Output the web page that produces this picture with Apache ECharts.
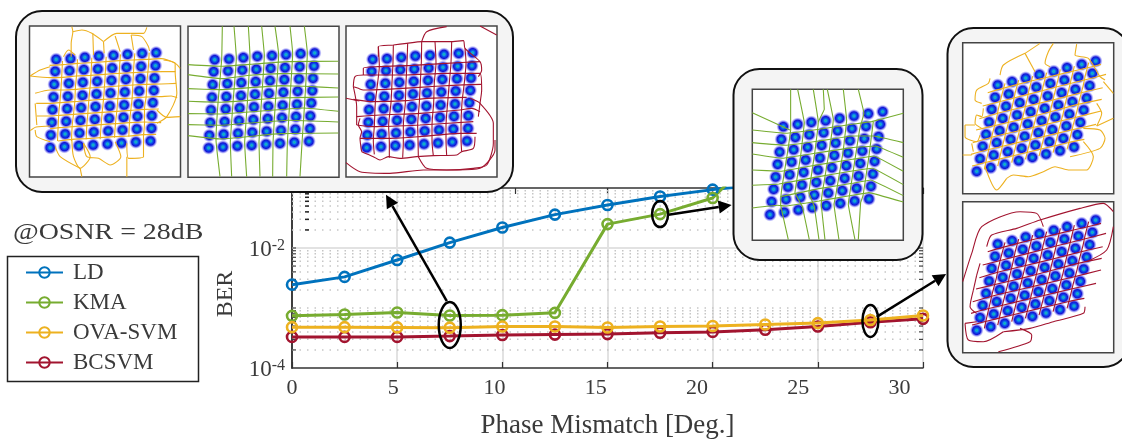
<!DOCTYPE html>
<html><head><meta charset="utf-8">
<script src="https://cdn.jsdelivr.net/npm/echarts@6/dist/echarts.min.js"></script>
<style>html,body{margin:0;padding:0;background:#fff}#c{width:1122px;height:440px}</style></head>
<body><div id="c"></div>
<script>
// ---------- main curve data ----------
const phaseMismatch = [0,2.5,5,7.5,10,12.5,15,17.5,20,22.5,25,27.5,30];
const berLD   = [2.45e-3,3.3e-3,6.3e-3,1.23e-2,2.2e-2,3.6e-2,5.2e-2,7.2e-2,9.4e-2,0.115];
const berKMA  = [7.4e-4,7.8e-4,8.4e-4,7.5e-4,7.6e-4,8.3e-4,2.5e-2,3.67e-2,6.8e-2,0.5];
const berOVA  = [4.8e-4,4.8e-4,4.75e-4,4.7e-4,4.93e-4,4.93e-4,4.74e-4,4.93e-4,5e-4,5.3e-4,5.6e-4,6.3e-4,7.5e-4];
const berBC   = [3.3e-4,3.3e-4,3.3e-4,3.4e-4,3.54e-4,3.6e-4,3.67e-4,3.87e-4,4e-4,4.35e-4,4.93e-4,5.8e-4,6.6e-4];
const seriesNames = ['LD','KMA','OVA-SVM','BCSVM'];
const xTickLabels = [0,5,10,15,20,25,30];
const xTopTicks = [10.6,15,20,25,30];
const yLabelValues = [1e-4,1e-2];
const yMajorGrid = [1e-2];
const yMinorGrid = [2e-4,3e-4,4e-4,5e-4,6e-4,7e-4,8e-4,9e-4,1e-3,2e-3,3e-3,4e-3,5e-3,6e-3,7e-3,8e-3,9e-3,2e-2,3e-2,4e-2,5e-2,6e-2,7e-2,8e-2,9e-2];
const yEdgeTicks = [2e-4,3e-4,4e-4,5e-4,6e-4,7e-4,8e-4,9e-4,1e-3,2e-3,3e-3,4e-3,5e-3,6e-3,7e-3,8e-3,9e-3,1e-2];
const yStrayTicks = [2e-2,3e-2,4e-2,5e-2,6e-2,7e-2,8e-2,9e-2];
const ellipseCenters = [[7.5,5.2e-4],[17.5,3.67e-2],[27.5,6.1e-4]];
const arrowEnds = [[7.36,1.3e-3,4.47,7.7e-2],[17.9,3.57e-2,20.9,5.2e-2],[27.8,7.1e-4,31.1,3.7e-3]];

// ---------- constellation centres ----------
const constAt7 = [[80,100],[123,98],[166,94],[208,90],[252,88],[294,85],[338,82],[380,80],
[77,136],[120,134],[163,131],[205,129],[248,126],[291,124],[335,121],[378,119],
[74,175],[118,172],[160,169],[203,166],[246,163],[289,160],[333,158],[375,156],
[72,213],[115,211],[159,208],[201,204],[243,201],[286,198],[329,195],[373,193],
[69,251],[113,248],[155,245],[198,242],[241,240],[284,237],[327,234],[370,230],
[67,289],[110,286],[153,283],[196,280],[239,277],[282,274],[324,271],[367,269],
[64,327],[107,324],[150,321],[193,318],[236,315],[279,312],[322,309],[366,307],
[62,365],[105,362],[148,359],[191,357],[234,354],[276,351],[319,348],[363,345]];
const constAt17 = [[93,112],[136,105],[177,99],[220,94],[262,87],[305,80],[348,73],[391,67],
[87,150],[129,144],[171,136],[214,130],[256,124],[299,118],[341,111],[384,105],
[82,188],[124,181],[166,174],[208,168],[250,161],[293,154],[336,148],[379,142],
[76,225],[118,218],[160,212],[203,206],[246,198],[287,191],[330,185],[373,179],
[70,263],[112,256],[154,249],[197,242],[239,235],[282,229],[324,222],[367,216],
[64,300],[107,293],[149,287],[192,279],[234,274],[277,267],[319,260],[362,254],
[58,337],[101,330],[144,324],[186,317],[228,311],[270,304],[313,297],[356,291],
[53,376],[96,369],[138,362],[180,355],[222,349],[264,342],[307,335],[350,329]];
const constAt27 = [[105,127],[148,117],[189,106],[230,96],[273,86],[313,75],[357,65],[399,55],
[97,164],[138,154],[180,143],[221,133],[263,122],[305,112],[347,103],[389,92],
[87,200],[130,191],[171,180],[213,170],[255,160],[297,150],[338,140],[381,129],
[79,238],[120,227],[163,217],[204,207],[246,197],[287,187],[329,177],[372,166],
[70,275],[111,264],[153,254],[195,244],[237,234],[278,223],[320,214],[363,202],
[60,311],[102,300],[144,290],[186,281],[227,270],[269,261],[311,250],[353,239],
[52,348],[93,337],[135,327],[177,317],[218,307],[260,297],[302,287],[344,276],
[42,386],[84,375],[126,365],[168,354],[209,344],[250,334],[292,324],[334,313]];

// ---------- decision boundaries ----------
const ovaAt7 = [
[[60,118],[100,116],[145,112],[185,110],[228,107],[270,104],[312,102],[355,100],[395,98],[437,112],[452,127]],
[[2,150],[32,132],[62,122]],[[2,150],[62,155],[100,154],[140,150],[182,148],[225,145],[270,142],[312,140],[355,138],[400,137],[438,137]],
[[17,202],[62,192],[95,192],[138,190],[180,186],[225,183],[268,180],[310,177],[352,175],[395,174],[440,172]],
[[20,232],[60,232],[90,230],[135,227],[178,223],[222,220],[265,218],[308,216],[350,213],[392,212],[425,210],[443,215]],
[[22,270],[60,270],[90,268],[132,265],[175,262],[218,259],[262,256],[304,253],[345,250],[388,249]],
[[2,314],[20,303],[62,300]],[[62,308],[88,305],[130,302],[172,299],[215,296],[258,293],[300,290],[345,288],[395,290]],
[[85,345],[128,340],[170,338],[212,335],[255,332],[298,330],[342,326],[380,325]],
[[99,105],[97,145],[95,180],[92,220],[88,260],[86,300],[84,345]],
[[144,100],[142,140],[138,180],[136,225],[132,265],[128,300],[126,345]],
[[187,95],[185,135],[182,180],[178,222],[175,262],[172,298],[170,340]],
[[230,92],[228,130],[225,180],[222,220],[218,260],[215,295],[212,340]],
[[273,85],[270,125],[268,178],[265,218],[262,255],[258,292],[255,335]],
[[316,82],[313,120],[310,175],[308,215],[304,252],[300,290],[298,332]],
[[359,80],[357,118],[352,172],[350,212],[345,250],[345,290],[342,330]],
[[102,92],[117,72],[137,87]],[[127,2],[130,17],[125,52],[125,92]],
[[130,17],[157,12],[187,22],[222,47]],[[190,22],[192,87]],[[222,47],[224,82]],
[[222,47],[262,22],[302,22]],[[257,30],[272,77]],[[305,27],[312,72]],
[[302,22],[342,22],[352,4]],[[305,27],[337,32],[357,62],[360,75]],
[[402,102],[437,112],[437,137],[442,202],[412,272],[382,292]],[[452,272],[412,274],[382,252]],
[[342,322],[342,392],[297,397],[292,352]],[[292,392],[292,452]],
[[162,352],[172,392],[207,397],[242,417],[274,392],[257,347]],
[[127,342],[132,392],[152,427],[182,392],[162,352]],[[152,427],[157,452]],
[[77,362],[92,392],[152,427]],[[17,312],[22,332],[62,347]],[[17,232],[22,297]]];
const kmaAt7 = [
[[0,115],[100,120],[200,113],[300,106],[451,105]],
[[0,145],[100,157],[186,147],[280,142],[451,143]],
[[0,187],[96,190],[280,178],[350,180],[451,185]],
[[0,225],[96,228],[270,215],[451,212]],
[[0,262],[96,263],[346,245],[451,255]],
[[0,295],[96,297],[300,282],[451,287]],
[[0,328],[96,338],[276,322],[451,320]],
[[103,0],[101,100],[90,230],[84,340],[96,451]],
[[138,0],[145,95],[135,230],[127,350],[131,451]],
[[181,0],[186,90],[178,230],[170,350],[176,451]],
[[221,0],[229,88],[220,230],[213,350],[216,451]],
[[261,0],[272,85],[262,230],[255,350],[254,451]],
[[306,0],[314,82],[305,230],[298,350],[296,451]],
[[349,0],[358,80],[350,230],[342,350],[336,451]]];
const bcAt7 = [
[[0,217],[40,225]],[[0,410],[42,437],[132,442],[232,432],[332,432],[402,427],[447,372],[447,342]],
[[217,392],[242,427],[302,432],[382,427],[422,417],[442,352],[442,292],[402,232],[372,217]],
[[227,47],[242,17],[302,2]],[[402,0],[452,27]],
[[97,92],[97,62],[142,57],[182,52],[227,47],[262,47],[312,47],[352,44],[357,67],[402,107],[407,132],[397,152]],
[[52,147],[52,127],[97,122],[200,118],[300,112],[402,107]],
[[22,182],[27,152],[52,147],[182,147],[300,142],[402,142],[407,192],[402,232],[397,272]],
[[22,182],[37,187],[52,192],[120,190],[220,184],[320,178],[405,175]],
[[22,220],[82,227],[182,224],[242,217],[362,214]],[[22,182],[32,242],[32,297]],
[[32,272],[102,267],[222,262],[342,252],[377,247],[402,257]],
[[32,297],[82,302],[222,297],[382,287]],[[42,277],[37,297],[47,317],[42,337],[47,377]],
[[42,337],[132,337],[222,332],[342,322],[392,322]],
[[47,377],[82,392],[102,402],[127,392],[162,397],[212,392],[262,389],[332,387],[347,377],[382,367],[387,332]],
[[97,62],[100,120],[95,170],[88,230],[85,300],[82,345],[85,385]],
[[142,57],[141,110],[138,170],[135,230],[128,300],[130,350],[130,395]],
[[185,52],[183,110],[180,170],[178,230],[172,300],[172,345],[170,395]],
[[227,47],[226,110],[223,170],[220,230],[215,300],[216,340],[217,392]],
[[267,47],[270,110],[265,170],[263,230],[258,300],[258,345],[262,389]],
[[317,47],[315,110],[310,170],[305,230],[300,300],[300,345],[302,387]],
[[357,67],[360,110],[355,170],[348,230],[345,300],[345,340],[347,377]]];
const kmaAt17 = [
[[0,70],[113,122]],[[0,122],[100,132],[200,120],[300,105],[358,97],[453,72]],
[[0,160],[100,168],[200,155],[300,140],[365,140],[453,160]],
[[0,194],[90,207],[200,190],[300,175],[370,170],[453,204]],
[[0,242],[85,246],[200,226],[300,210],[365,200],[453,246]],
[[0,288],[80,284],[200,262],[300,245],[360,237],[453,286]],
[[85,322],[200,298],[300,282],[355,272],[453,319]],
[[0,356],[75,348],[100,350],[200,335],[300,318],[350,310],[453,338]],
[[115,0],[115,122],[104,200],[88,300],[85,345],[108,451]],
[[136,0],[156,100],[145,200],[128,310],[150,352],[171,451]],
[[183,0],[198,97],[186,200],[170,310],[186,352],[200,451]],
[[213,0],[216,60],[198,97]],
[[225,0],[243,90],[230,190],[210,310],[207,345],[218,451]],
[[273,0],[283,92],[272,190],[250,320],[245,345],[260,451]],
[[318,0],[335,72],[322,120],[292,315],[288,345],[308,451]],
[[363,97],[350,200],[332,320],[325,340],[318,451]]];
const cellsAt27 = [
[[75,150],[120,137],[205,115],[290,95],[375,75],[415,65]],
[[60,190],[110,177],[196,155],[280,133],[365,112],[430,95]],
[[50,228],[100,213],[186,192],[270,172],[355,150],[420,135]],
[[40,262],[90,250],[175,230],[260,208],[345,185],[417,170]],
[[30,300],[82,285],[165,265],[250,245],[335,225],[415,205]],
[[25,335],[72,322],[155,302],[240,282],[325,262],[400,245]],
[[28,370],[65,360],[148,340],[230,320],[315,300],[365,290]],
[[127,122],[117,158],[108,195],[100,233],[90,270],[82,305],[73,343],[65,380]],
[[168,112],[158,148],[150,185],[141,222],[132,260],[123,295],[114,332],[105,370]],
[[210,100],[200,138],[192,175],[183,212],[174,248],[165,285],[156,322],[147,360]],
[[252,90],[242,128],[234,165],[225,202],[216,238],[207,275],[198,312],[188,350]],
[[293,80],[284,118],[275,155],[266,192],[258,228],[248,265],[239,302],[229,340]],
[[335,70],[326,108],[317,145],[308,182],[300,218],[290,255],[281,292],[271,330]],
[[378,60],[368,98],[360,135],[350,172],[342,208],[332,245],[323,282],[313,320]]];
const ovaOuter27 = [
[[0,337],[27,337]],[[67,372],[102,442],[132,407]],
[[132,407],[152,397],[197,402],[242,387],[277,372],[317,382],[372,382],[392,342],[362,297]],
[[362,257],[412,262],[427,287],[412,317],[322,342]],[[402,250],[452,227]],[[402,182],[417,212],[402,250]],
[[422,117],[452,152]],[[187,32],[232,2]],[[112,97],[122,67],[187,32]],[[187,32],[217,87]],
[[272,2],[257,27],[247,62],[262,72]],[[342,4],[337,37],[377,47],[412,102],[427,112]],
[[82,107],[77,122],[42,142],[37,172],[57,182]],[[62,197],[57,222],[42,217],[37,242],[57,257]],
[[7,247],[7,282],[42,297],[52,277]],[[7,247],[37,247]],[[27,302],[32,327]]];
const bcOuter27 = [
[[0,240],[27,155],[57,75],[172,30],[222,35],[242,75]],[[107,450],[202,420],[207,400],[172,380]],
[[452,30],[422,5],[352,20],[232,55],[162,80],[87,100],[72,135]],[[452,75],[432,145],[372,180]],
[[7,365],[17,415],[62,420],[122,390]],[[7,365],[42,360]],
[[122,390],[202,380],[272,360],[362,335],[367,315]],
[[32,265],[22,315],[42,335]],[[42,220],[32,265]],[[52,185],[42,220]]];

// ---------- styling / layout ----------
const colors = {LD:'#0072bd',KMA:'#77ac30','OVA-SVM':'#edb120',BCSVM:'#a2142f'};
const SERIF = '"Liberation Serif","DejaVu Serif",serif';
const TEXT = '#3a3a3a';
const plot = {left:292,top:188,width:631,height:180.6};
const insets = [
 {x:29.5,y:26,  pts:constAt7, lines:ovaAt7, col:colors['OVA-SVM'], s:.25},
 {x:188, y:26.3,pts:constAt7, lines:kmaAt7, col:colors.KMA, s:.1},
 {x:346, y:26,  pts:constAt7, lines:bcAt7,  col:colors.BCSVM, s:.25},
 {x:752.3,y:89.3,pts:constAt17,lines:kmaAt17,col:colors.KMA, s:.05},
 {x:962.7,y:42.7,pts:constAt27,lines:cellsAt27.concat(ovaOuter27),col:colors['OVA-SVM'], s:.25},
 {x:962.7,y:201.7,pts:constAt27,lines:cellsAt27.concat(bcOuter27),col:colors.BCSVM, s:.25}
];
const INSET = 151;
const chart = echarts.init(document.getElementById('c'),null,{renderer:'canvas'});

const blob = {type:'radial',x:.5,y:.5,r:.5,colorStops:[
 {offset:0,color:'#22c08a'},{offset:.16,color:'#10a4e0'},{offset:.38,color:'#0a48e8'},
 {offset:.6,color:'#1414d4'},{offset:.76,color:'rgba(90,90,235,.7)'},{offset:1,color:'rgba(170,170,255,0)'}]};

const grids=[{left:plot.left,top:plot.top,width:plot.width,height:plot.height}];
const axisStyle={show:true,lineStyle:{color:'#333',width:1.5}};
const xAxes=[
 {type:'value',gridIndex:0,min:0,max:30,interval:5,axisLine:axisStyle,
  axisTick:{show:true,inside:true,length:6,lineStyle:{color:'#333',width:1.2}},axisLabel:{show:false},
  splitLine:{show:true,lineStyle:{color:'#e2e2e2',width:2}},
  name:'Phase Mismatch [Deg.]',nameLocation:'middle',nameGap:44,
  nameTextStyle:{fontFamily:SERIF,fontSize:27,color:TEXT}},
 {type:'value',gridIndex:0,position:'top',min:0,max:30,axisLine:axisStyle,
  axisTick:{show:true,inside:true,length:6,customValues:xTopTicks,lineStyle:{color:'#333',width:1.2}},
  axisLabel:{show:false},splitLine:{show:false}},
 {type:'value',gridIndex:0,position:'bottom',min:0,max:31.16,axisLine:{show:false},axisTick:{show:false},
  splitLine:{show:false},
  axisLabel:{show:true,customValues:xTickLabels,margin:9,fontFamily:SERIF,fontSize:22,color:TEXT}}
];
const yAxes=[
 {type:'log',logBase:10,gridIndex:0,min:1e-4,max:1e-1,axisLine:axisStyle,
  axisTick:{show:false},splitLine:{show:false},
  axisLabel:{show:true,customValues:yLabelValues,margin:7,color:TEXT,padding:[3,0,0,0],
   formatter:v=>'{b|10}{s|'+Math.round(Math.log10(v))+'}',
   rich:{b:{fontFamily:SERIF,fontSize:23,color:TEXT},s:{fontFamily:SERIF,fontSize:16,color:TEXT,verticalAlign:'top',padding:[0,0,8,0]}}},
  name:'BER',nameLocation:'middle',nameGap:46,
  nameTextStyle:{fontFamily:SERIF,fontSize:24,color:TEXT,padding:[0,32,0,0]}},
 {type:'log',logBase:10,gridIndex:0,position:'right',min:1e-4,max:1e-1,axisLine:axisStyle,
  axisTick:{show:false},axisLabel:{show:false},splitLine:{show:false}}
];

// horizontal grid lines and inner y ticks go through the log axis via custom series
const hLine=(style)=>(p,api)=>{
  const a=api.coord([0,api.value(1)]),b=api.coord([30,api.value(1)]);
  return {type:'line',shape:{x1:a[0],y1:a[1],x2:b[0],y2:b[1]},style};};
const series=[
 {type:'custom',name:'major grid',xAxisIndex:0,yAxisIndex:0,z:1,silent:true,animation:false,
  data:yMajorGrid.map(v=>[0,v]),encode:{x:0,y:1},renderItem:hLine({stroke:'#e2e2e2',lineWidth:2})},
 {type:'custom',name:'minor grid',xAxisIndex:0,yAxisIndex:0,z:1,silent:true,animation:false,
  data:yMinorGrid.map(v=>[0,v]),encode:{x:0,y:1},renderItem:hLine({stroke:'#c6c6c6',lineWidth:1.5,lineDash:[1.5,6]})},
 {type:'custom',name:'y ticks',xAxisIndex:0,yAxisIndex:0,z:2,silent:true,animation:false,
  data:yEdgeTicks.map(v=>[0,v]),encode:{x:0,y:1},
  renderItem:(p,api)=>{const a=api.coord([0,api.value(1)]),b=api.coord([30,api.value(1)]);
   const st={stroke:'#333',lineWidth:1.1};
   return {type:'group',children:[
    {type:'line',shape:{x1:a[0],y1:a[1],x2:a[0]+4,y2:a[1]},style:st},
    {type:'line',shape:{x1:b[0]-4,y1:b[1],x2:b[0],y2:b[1]},style:st}]};}},
 {type:'custom',name:'offset y ticks',xAxisIndex:0,yAxisIndex:0,z:2,silent:true,animation:false,
  data:yStrayTicks.map(v=>[0,v]),encode:{x:0,y:1},
  renderItem:(p,api)=>{const a=api.coord([0,api.value(1)]);
   return {type:'line',shape:{x1:a[0]+13,y1:a[1],x2:a[0]+17,y2:a[1]},style:{stroke:'#222',lineWidth:1.5}};}}
];
const curves={LD:berLD,KMA:berKMA,'OVA-SVM':berOVA,BCSVM:berBC};
seriesNames.forEach(n=>{
 series.push({type:'line',name:n,xAxisIndex:0,yAxisIndex:0,z:n==='OVA-SVM'?3.5:3,clip:true,
  data:curves[n].map((v,i)=>[phaseMismatch[i],v]),
  symbol:'circle',symbolSize:10,showSymbol:true,
  lineStyle:{color:colors[n],width:3},
  itemStyle:{color:'rgba(255,255,255,0)',borderColor:colors[n],borderWidth:2.6},
  emphasis:{disabled:true},animation:false});
});
// ellipse markers & arrows, anchored in data coordinates
const ellipseRadii=[[11,23],[8,13],[8,16]];
series.push({type:'custom',name:'markers',xAxisIndex:0,yAxisIndex:0,z:4,silent:true,clip:false,animation:false,
 data:ellipseCenters,encode:{x:0,y:1},
 renderItem:(p,api)=>{const c=api.coord([api.value(0),api.value(1)]);const r=ellipseRadii[p.dataIndex];
  return {type:'ellipse',shape:{cx:c[0],cy:c[1],rx:r[0],ry:r[1]},style:{fill:'none',stroke:'#000',lineWidth:2.5}};}});
series.push({type:'custom',name:'arrows',xAxisIndex:0,yAxisIndex:0,z:4,silent:true,clip:false,animation:false,
 data:arrowEnds,encode:{x:[0,2],y:[1,3]},
 renderItem:(p,api)=>{
  const a=api.coord([api.value(0),api.value(1)]),b=api.coord([api.value(2),api.value(3)]);
  const dx=b[0]-a[0],dy=b[1]-a[1],L=Math.hypot(dx,dy),ux=dx/L,uy=dy/L,H=13,W=6.5;
  const bx=b[0]-ux*H,by=b[1]-uy*H;
  return {type:'group',children:[
   {type:'line',shape:{x1:a[0],y1:a[1],x2:bx,y2:by},style:{stroke:'#000',lineWidth:2.5}},
   {type:'polygon',shape:{points:[b,[bx-uy*W,by+ux*W],[bx+uy*W,by-ux*W]]},style:{fill:'#000'}}]};}});

// insets
insets.forEach((ins,i)=>{
 const g=grids.length;
 grids.push({left:ins.x,top:ins.y,width:INSET,height:INSET,z:7});
 xAxes.push({type:'value',gridIndex:g,min:0,max:453,show:false});
 yAxes.push({type:'value',gridIndex:g,min:0,max:453,inverse:true,show:false});
 const xi=xAxes.length-1,yi=yAxes.length-1;
 series.push({type:'scatter',name:'constellation '+(i+1),xAxisIndex:xi,yAxisIndex:yi,z:8,silent:true,animation:false,
  data:ins.pts,symbol:'circle',symbolSize:14,itemStyle:{color:blob,opacity:1}});
 ins.lines.forEach((ln,k)=>series.push({type:'line',name:'boundary '+(i+1)+'-'+k,xAxisIndex:xi,yAxisIndex:yi,z:9,silent:true,animation:false,
  data:ln,symbol:'none',smooth:ins.s,clip:true,lineStyle:{color:ins.col,width:1.1}}));
});

const graphics=[
 {type:'rect',z:5,shape:{x:16,y:11,width:497,height:181,r:26},style:{fill:'#f4f4f4',stroke:'#111',lineWidth:2}},
 {type:'rect',z:5,shape:{x:733.5,y:69,width:189,height:191,r:26},style:{fill:'#f4f4f4',stroke:'#111',lineWidth:2}},
 {type:'rect',z:5,shape:{x:947.5,y:28,width:182,height:339,r:26},style:{fill:'#f4f4f4',stroke:'#111',lineWidth:2}},
 {type:'rect',z:1,shape:{x:7.5,y:256.5,width:191,height:125},style:{fill:'#fff',stroke:'#222',lineWidth:1.5}},
 {type:'text',z:1,x:13,y:233,scaleX:1.163,style:{text:'@OSNR = 28dB',fontFamily:SERIF,fontSize:24,fill:TEXT,verticalAlign:'middle'}}
];
insets.forEach(ins=>graphics.push({type:'rect',z:6,shape:{x:ins.x,y:ins.y,width:INSET,height:INSET},
 style:{fill:'#fff',stroke:'#444',lineWidth:1.5}}));

chart.setOption({
 animation:false,backgroundColor:'#fff',
 grid:grids,xAxis:xAxes,yAxis:yAxes,series,graphic:{elements:graphics},
 legend:{data:seriesNames,orient:'vertical',left:25,top:261,itemGap:7,itemWidth:37,itemHeight:13,padding:0,z:3,
  selectedMode:false,textStyle:{fontFamily:SERIF,fontSize:23,color:TEXT,padding:[0,0,0,5],lineHeight:23}}
});
</script></body></html>
